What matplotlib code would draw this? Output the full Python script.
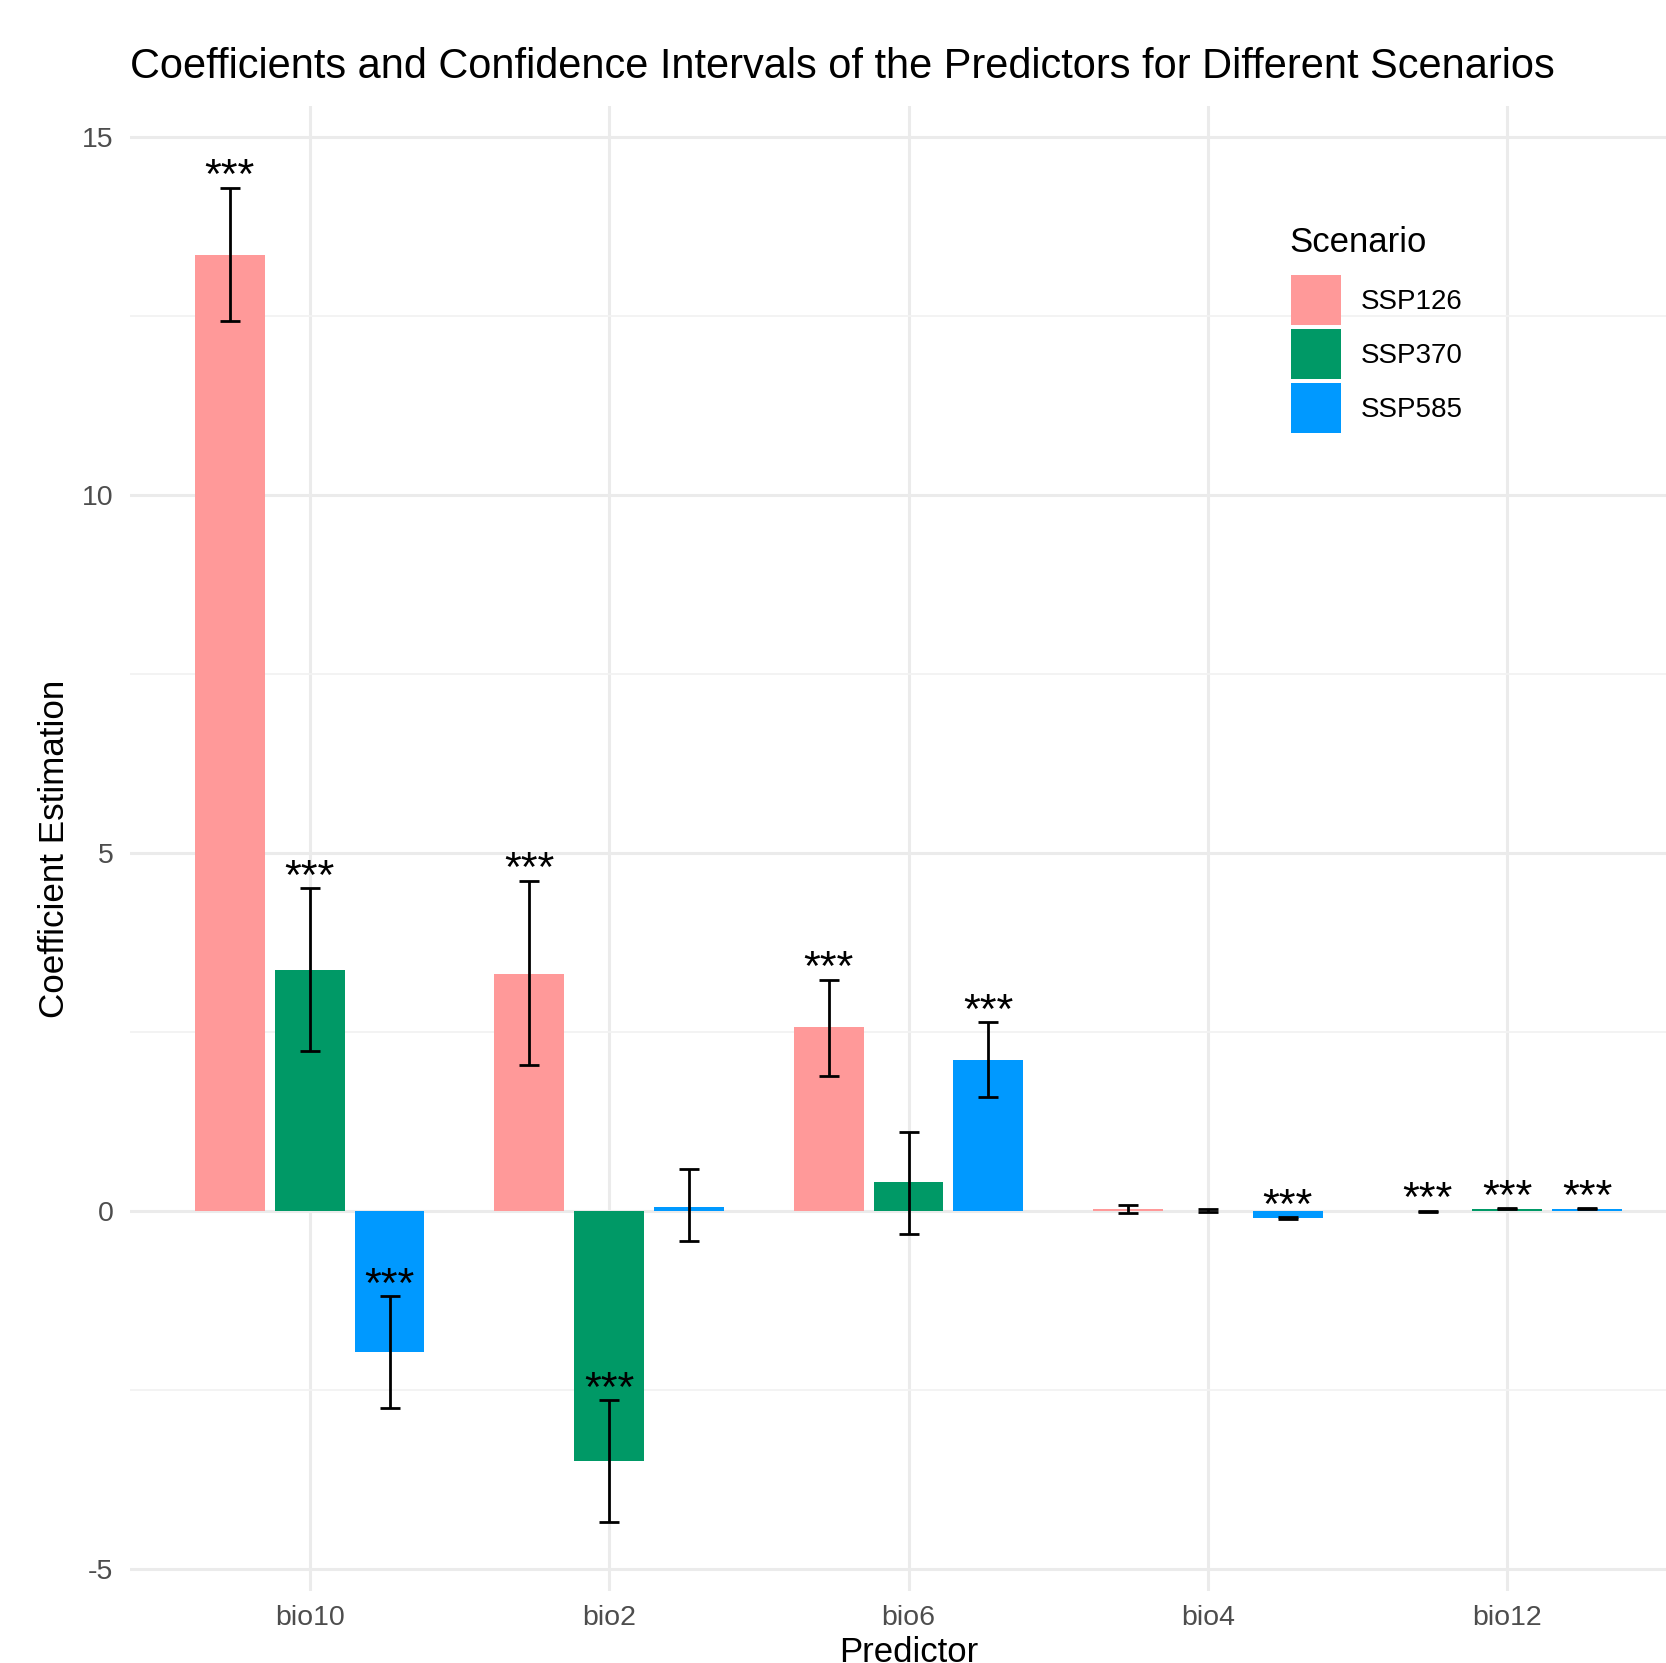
import numpy as np
import matplotlib
matplotlib.use("Agg")
import matplotlib.pyplot as plt

plt.rcParams['font.family'] = ['Liberation Sans', 'DejaVu Sans']
plt.rcParams['axes.unicode_minus'] = False

# Коэффициенты модели и доверительные интервалы по сценариям
predictors = ["bio10", "bio2", "bio6", "bio4", "bio12"]
scenarios = ["SSP126", "SSP370", "SSP585"]

ssp126_est = [13.35, 3.31, 2.57, 0.02, -0.005]
ssp126_low = [12.43, 2.03, 1.88, -0.03, -0.02]
ssp126_high = [14.29, 4.61, 3.23, 0.08, 0.00]
ssp126_sig = ["***", "***", "***", "", "***"]

ssp370_est = [3.37, -3.50, 0.40, 0.00, 0.02]
ssp370_low = [2.23, -4.35, -0.33, -0.02, 0.02]
ssp370_high = [4.51, -2.64, 1.10, 0.02, 0.04]
ssp370_sig = ["***", "***", "", "", "***"]

ssp585_est = [-1.97, 0.06, 2.11, -0.10, 0.02]
ssp585_low = [-2.76, -0.42, 1.59, -0.12, 0.02]
ssp585_high = [-1.19, 0.58, 2.63, -0.09, 0.04]
ssp585_sig = ["***", "", "***", "***", "***"]

colors = ["#FF9999", "#009966", "#0099FF"]

W, H = 1666, 1663
fig = plt.figure(figsize=(W / 100, H / 100), dpi=100)
# панель заходит чуть за правый край
ax = fig.add_axes([130 / W, (H - 1591) / H, (1687 - 130) / W, (1591 - 106) / H])

x = np.arange(1, len(predictors) + 1)
dodge = 0.8 / 3
bar_w = 0.7 / 3

series = [
    (ssp126_est, ssp126_low, ssp126_high, ssp126_sig),
    (ssp370_est, ssp370_low, ssp370_high, ssp370_sig),
    (ssp585_est, ssp585_low, ssp585_high, ssp585_sig),
]

for i, (est, low, high, sig) in enumerate(series):
    est = np.array(est)
    low = np.array(low)
    high = np.array(high)
    xs = x + (i - 1) * dodge
    ax.bar(xs, est, width=bar_w, color=colors[i], label=scenarios[i], zorder=2)
    ax.errorbar(xs, est, yerr=[est - low, high - est], fmt="none", ecolor="black",
                elinewidth=2.0, capsize=7, capthick=2.0, zorder=3)
    for xi, hi, s in zip(xs, high, sig):
        if s:
            ax.annotate(s, (xi, hi), xytext=(0, -0.5), textcoords="offset points",
                        ha="center", va="baseline", fontsize=31, color="black", zorder=4)

ax.set_xlim(0.4, 5.6)
ax.set_ylim(-5.31, 15.43)
ax.set_xticks(x)
ax.set_xticklabels(predictors)
ax.set_yticks([-5, 0, 5, 10, 15])
ax.set_yticks([-2.5, 2.5, 7.5, 12.5], minor=True)

ax.grid(which="major", color="#EBEBEB", linewidth=2.2, zorder=0)
ax.grid(which="minor", axis="y", color="#F2F2F2", linewidth=1.3, zorder=0)
ax.set_axisbelow(True)
for sp in ax.spines.values():
    sp.set_visible(False)
ax.tick_params(which="both", length=0)
ax.tick_params(axis="x", labelsize=20.5, labelcolor="#4D4D4D", pad=10)
ax.tick_params(axis="y", labelsize=20.5, labelcolor="#4D4D4D", pad=12)

ax.set_ylabel("Coefficient Estimation", fontsize=25.2)
ax.yaxis.set_label_coords((55 - 130) / (1687 - 130), 0.5)
ax.yaxis.label.set_va("center")
ax.set_xlabel("Predictor", fontsize=25)
ax.xaxis.set_label_coords(0.5, (1591 - 1653) / (1591 - 106))
ax.xaxis.label.set_va("center")

fig.text(130 / W, 1 - 67 / H,
         "Coefficients and Confidence Intervals of the Predictors for Different Scenarios",
         fontsize=29.9, ha="left", va="center")

# легенда: заголовок отдельно, чтобы задать отступ до ключей
fig.text(1289 / W, 1 - 242 / H, "Scenario", fontsize=25, ha="left", va="center")
leg = ax.legend(loc="upper left",
                bbox_to_anchor=(1291 / W, 1 - 275 / H), bbox_transform=fig.transFigure,
                frameon=False, fontsize=20, handlelength=1.8, handleheight=2.39,
                labelspacing=0.15, handletextpad=0.72, borderpad=0, borderaxespad=0)

fig.savefig("out.png", dpi=100, facecolor="white")
